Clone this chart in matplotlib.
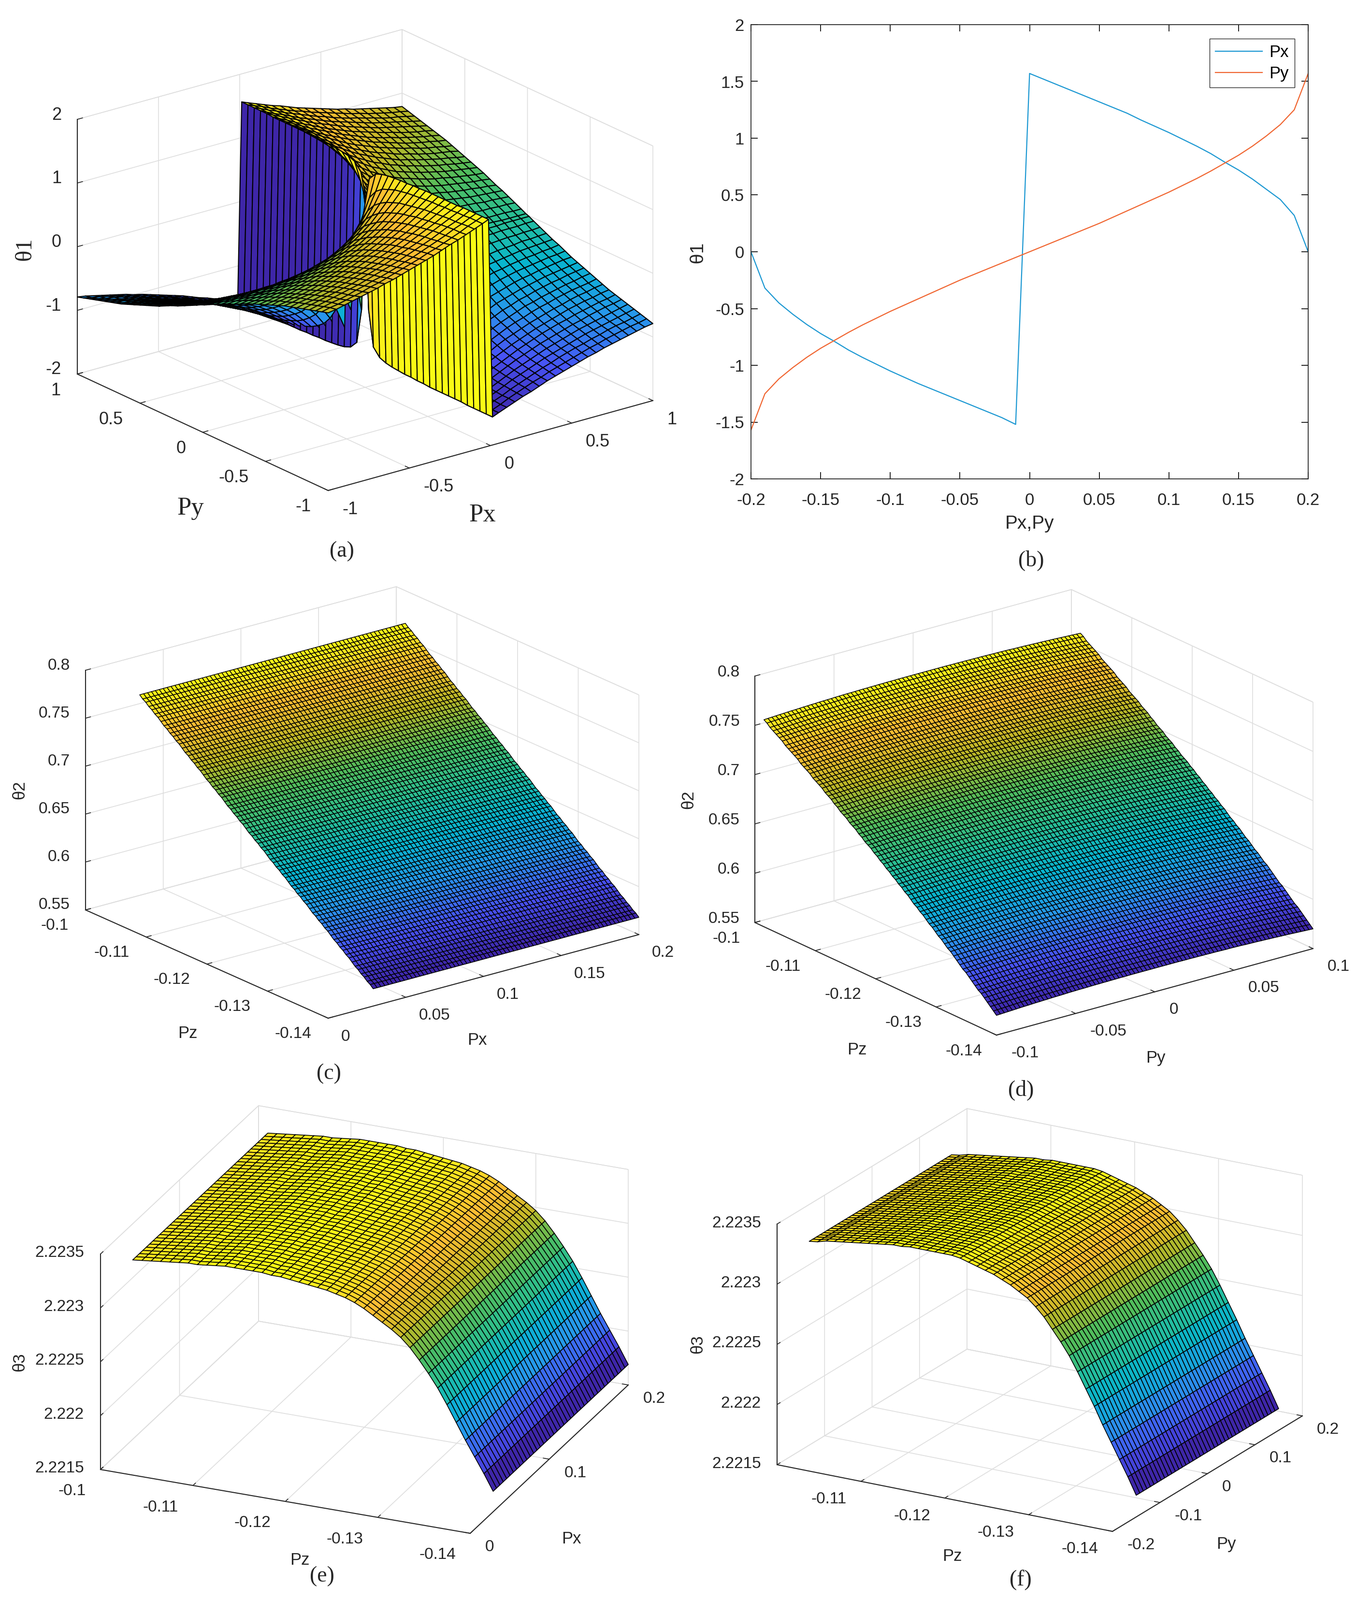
import numpy as np
import matplotlib
matplotlib.use("Agg")
import matplotlib.pyplot as plt
from matplotlib.colors import LinearSegmentedColormap
from mpl_toolkits.mplot3d import proj3d

W, H = 2837, 3311
plt.rcParams['font.family'] = ['Liberation Sans', 'DejaVu Sans']

# panel (b): theta1 against Px and Py, one sample per 0.01
line_x = [-0.2, -0.19, -0.18, -0.17, -0.16, -0.15, -0.14, -0.13, -0.12, -0.11, -0.1, -0.09, -0.08, -0.07,
          -0.06, -0.05, -0.04, -0.03, -0.02, -0.01, 0, 0.01, 0.02, 0.03, 0.04, 0.05, 0.06, 0.07, 0.08, 0.09,
          0.1, 0.11, 0.12, 0.13, 0.14, 0.15, 0.16, 0.17, 0.18, 0.19, 0.2]
line_px = [0, -0.32, -0.45, -0.55, -0.64, -0.72, -0.79, -0.865, -0.93, -0.99, -1.05, -1.105, -1.16, -1.21,
           -1.26, -1.31, -1.36, -1.41, -1.46, -1.52, 1.57, 1.52, 1.47, 1.42, 1.37, 1.32, 1.27, 1.22, 1.16, 1.105,
           1.05, 0.99, 0.93, 0.865, 0.79, 0.72, 0.64, 0.55, 0.46, 0.32, 0]
line_py = [-1.57, -1.25, -1.12, -1.02, -0.93, -0.85, -0.78, -0.71, -0.645, -0.585, -0.525, -0.47, -0.415, -0.36,
           -0.305, -0.25, -0.2, -0.15, -0.1, -0.05, 0, 0.05, 0.1, 0.15, 0.2, 0.25, 0.305, 0.36, 0.415, 0.47,
           0.525, 0.585, 0.645, 0.71, 0.78, 0.85, 0.93, 1.02, 1.12, 1.25, 1.57]

# panel (a): theta1 for Px, Py > 0 (rows Py, columns Px on a_step), other quadrants follow by sign
a_step = [0.0125, 0.05, 0.1, 0.15, 0.2, 0.25, 0.3, 0.35, 0.4, 0.45, 0.5, 0.55, 0.6, 0.65, 0.7, 0.75, 0.8, 0.85, 0.9, 0.95, 1.0]
a_quad = [
    [.79, .24, .12, .08, .06, .05, .04, .04, .03, .03, .02, .02, .02, .02, .02, .02, .02, .01, .01, .01, .01],
    [1.33, .79, .46, .32, .24, .20, .17, .14, .12, .11, .10, .09, .08, .08, .07, .07, .06, .06, .06, .05, .05],
    [1.45, 1.11, .79, .59, .46, .38, .32, .28, .24, .22, .20, .18, .17, .15, .14, .13, .12, .12, .11, .11, .10],
    [1.49, 1.25, .98, .79, .64, .54, .46, .40, .36, .32, .29, .27, .24, .23, .21, .20, .19, .17, .17, .16, .15],
    [1.51, 1.33, 1.11, .93, .79, .67, .59, .52, .46, .42, .38, .35, .32, .30, .28, .26, .24, .23, .22, .21, .20],
    [1.52, 1.37, 1.19, 1.03, .90, .79, .69, .62, .56, .51, .46, .43, .39, .37, .34, .32, .30, .29, .27, .26, .24],
    [1.53, 1.41, 1.25, 1.11, .98, .88, .79, .71, .64, .59, .54, .50, .46, .43, .40, .38, .36, .34, .32, .31, .29],
    [1.53, 1.43, 1.29, 1.17, 1.05, .95, .86, .79, .72, .66, .61, .57, .53, .49, .46, .44, .41, .39, .37, .35, .34],
    [1.54, 1.45, 1.33, 1.21, 1.11, 1.01, .93, .85, .79, .73, .67, .63, .59, .55, .52, .49, .46, .44, .42, .40, .38],
    [1.54, 1.46, 1.35, 1.25, 1.15, 1.06, .98, .91, .84, .79, .73, .69, .64, .61, .57, .54, .51, .49, .46, .44, .42],
    [1.55, 1.47, 1.37, 1.28, 1.19, 1.11, 1.03, .96, .90, .84, .79, .74, .69, .66, .62, .59, .56, .53, .51, .48, .46],
    [1.55, 1.48, 1.39, 1.30, 1.22, 1.14, 1.07, 1.00, .94, .88, .83, .79, .74, .70, .67, .63, .60, .57, .55, .53, .50],
    [1.55, 1.49, 1.41, 1.33, 1.25, 1.18, 1.11, 1.04, .98, .93, .88, .83, .79, .75, .71, .68, .64, .61, .59, .56, .54],
    [1.55, 1.49, 1.42, 1.34, 1.27, 1.20, 1.14, 1.08, 1.02, .97, .92, .87, .83, .79, .75, .71, .68, .65, .63, .60, .58],
    [1.55, 1.50, 1.43, 1.36, 1.29, 1.23, 1.17, 1.11, 1.05, 1.00, .95, .90, .86, .82, .79, .75, .72, .69, .66, .64, .61],
    [1.55, 1.50, 1.44, 1.37, 1.31, 1.25, 1.19, 1.13, 1.08, 1.03, .98, .94, .90, .86, .82, .79, .75, .72, .69, .67, .64],
    [1.56, 1.51, 1.45, 1.39, 1.33, 1.27, 1.21, 1.16, 1.11, 1.06, 1.01, .97, .93, .89, .85, .82, .79, .76, .73, .70, .67],
    [1.56, 1.51, 1.45, 1.40, 1.34, 1.28, 1.23, 1.18, 1.13, 1.08, 1.04, 1.00, .96, .92, .88, .85, .82, .79, .76, .73, .70],
    [1.56, 1.52, 1.46, 1.41, 1.35, 1.30, 1.25, 1.20, 1.15, 1.11, 1.06, 1.02, .98, .95, .91, .88, .84, .81, .79, .76, .73],
    [1.56, 1.52, 1.47, 1.41, 1.36, 1.31, 1.26, 1.22, 1.17, 1.13, 1.09, 1.05, 1.01, .97, .94, .90, .87, .84, .81, .79, .76],
    [1.56, 1.52, 1.47, 1.42, 1.37, 1.33, 1.28, 1.23, 1.19, 1.15, 1.11, 1.07, 1.03, 1.00, .96, .93, .90, .87, .84, .81, .79],
]

# panel (c): theta2 along Pz, flat along Px
c_theta2 = [.568, .571, .573, .576, .578, .581, .583, .586, .589, .591, .594, .596, .599, .601, .604, .607, .609,
            .612, .614, .617, .619, .622, .625, .627, .630, .632, .635, .637, .640, .643, .645, .648, .650, .653,
            .655, .658, .661, .663, .666, .668, .671, .673, .676, .679, .681, .684, .686, .689, .691, .694, .697,
            .699, .702, .704, .707, .709, .712, .715, .717, .720, .722, .725, .727, .730, .733, .735, .738, .740,
            .743, .745, .748, .751, .753, .756, .758, .761, .763, .766]

# panel (d): theta2 along Pz at the Py = +-0.1 edges, and how much the middle of each row rises above them
d_theta2 = [.570, .573, .576, .579, .582, .585, .587, .590, .593, .596, .599, .601, .604, .607, .610, .613, .615,
            .618, .621, .623, .626, .629, .631, .634, .637, .639, .642, .644, .647, .650, .652, .655, .657, .660,
            .662, .665, .667, .670, .672, .675, .677, .680, .682, .684, .687, .689, .692, .694, .696, .699, .701,
            .703, .706, .708, .711, .713, .715, .718, .720, .722, .724, .727, .729, .731, .733, .736, .738, .740,
            .742, .744, .747, .749, .751, .753, .755, .758, .760]
d_bow = [.0000, .0002, .0004, .0006, .0008, .0010, .0012, .0014, .0015, .0017, .0019, .0020, .0022, .0023, .0025,
         .0026, .0027, .0028, .0030, .0031, .0032, .0033, .0033, .0034, .0035, .0036, .0036, .0037, .0037, .0038,
         .0038, .0039, .0039, .0039, .0040, .0040, .0040, .0040, .0040, .0040, .0040]

# panels (e), (f): theta3 along Pz (one row per 0.001), flat along Px / Py
e_theta3 = [2.22169, 2.22184, 2.22198, 2.22212, 2.22227, 2.22242, 2.22256, 2.22268, 2.22279, 2.22289,
            2.22297, 2.22303, 2.22308, 2.22313, 2.22318, 2.22322, 2.22325, 2.22327, 2.22329, 2.22330,
            2.22331, 2.22332, 2.22333, 2.22334, 2.22334, 2.22335, 2.22335, 2.22335, 2.22335, 2.22335,
            2.22334, 2.22333, 2.22332, 2.22332, 2.22331, 2.22330, 2.22329, 2.22328, 2.22327, 2.22326]
f_theta3 = [2.22168, 2.22182, 2.22195, 2.22208, 2.22221, 2.22235, 2.22248, 2.22261, 2.22273, 2.22283,
            2.22292, 2.22301, 2.22308, 2.22314, 2.22318, 2.22322, 2.22325, 2.22328, 2.22330, 2.22332,
            2.22334, 2.22336, 2.22337, 2.22337, 2.22337, 2.22337, 2.22337, 2.22337, 2.22336, 2.22336,
            2.22335, 2.22334, 2.22333, 2.22332, 2.22331, 2.22330, 2.22329, 2.22328, 2.22326, 2.22325]

# tick values and labels
a_xyticks = [-1, -0.5, 0, 0.5, 1]
a_xylabels = ['-1', '-0.5', '0', '0.5', '1']
a_zticks = [-2, -1, 0, 1, 2]
pz_ticks = [-0.14, -0.13, -0.12, -0.11, -0.1]
pz_labels = ['-0.14', '-0.13', '-0.12', '-0.11', '-0.1']
theta2_ticks = [0.55, 0.6, 0.65, 0.7, 0.75, 0.8]
theta2_labels = ['0.55', '0.6', '0.65', '0.7', '0.75', '0.8']
theta3_ticks = [2.2215, 2.222, 2.2225, 2.223, 2.2235]
theta3_labels = ['2.2215', '2.222', '2.2225', '2.223', '2.2235']

# MATLAB parula
parula = LinearSegmentedColormap.from_list('parula', [
    (0.2422, 0.1504, 0.6603), (0.2810, 0.3228, 0.9579), (0.1540, 0.5902, 0.9218), (0.0297, 0.7082, 0.8163),
    (0.1600, 0.7500, 0.5800), (0.3200, 0.7400, 0.3600), (0.7400, 0.7200, 0.1500), (0.9970, 0.7400, 0.2000),
    (0.9769, 0.9839, 0.0805)])

fig = plt.figure(figsize=(W / 100, H / 100), dpi=100, facecolor='white')


def fit_box(ax, L, F, R, T):
    # L, F, R: floor corners in image pixels, T: top of the vertical axis above L
    L, F, R, T = [np.array(p, float) for p in (L, F, R, T)]
    vx = (R - F) * [1, -1]
    vy = (L - F) * [1, -1]
    vz = (L[1] - T[1])
    sin_el = np.sqrt((vx[1] / vx[0]) * (vy[1] / -vy[0]))
    ratio = np.sqrt((vx[1] / vx[0]) / (vy[1] / -vy[0]))
    el = np.arcsin(sin_el)
    az = -180 + np.degrees(np.arctan2(1, ratio))
    sin_az, cos_az = -np.sin(np.radians(az)), -np.cos(np.radians(az))
    ax.set_proj_type('ortho')
    ax.view_init(np.degrees(el), az)
    ax.set_box_aspect((vx[0] / sin_az, -vy[0] / cos_az, vz / np.cos(el)))
    side = 1000
    ax.set_position([0, 0, side / W, side / H])
    ax.apply_aspect()
    xl, xh = ax.get_xlim()
    yl, yh = ax.get_ylim()
    zl, zh = ax.get_zlim()
    xs, ys, _ = proj3d.proj_transform(np.array([xl, xh, xl]), np.array([yh, yl, yl]), np.array([zl, zl, zl]), ax.get_proj())
    pts = ax.transData.transform(np.c_[xs, ys])
    k = abs(R[0] - L[0]) / abs(pts[1, 0] - pts[0, 0])
    x0 = F[0] - k * pts[2, 0]
    y0 = (H - F[1]) - k * pts[2, 1]
    ax.set_position([x0 / W, y0 / H, side * k / W, side * k / H])
    ax.apply_aspect()


def tick_text(ax, xs, ys, zs, labels, dx, dy, ha, size):
    # put tick labels a fixed pixel distance from their tick on the axis line
    px, py, _ = proj3d.proj_transform(np.array(xs, float), np.array(ys, float), np.array(zs, float), ax.get_proj())
    pts = ax.transData.transform(np.c_[px, py])
    for (x, y), s in zip(pts, labels):
        fig.text((x + dx) / W, (y - dy) / H, s, fontsize=size, ha=ha, va='center', color='#262626')


def make_surface(corners, px, py, z, xlim, ylim, zlim, xticks, xlabels, yticks, ylabels, zticks, zlabels,
                 offsets, lw=0.7, size=24):
    ax = fig.add_subplot(projection='3d')
    ax.set_xlim(*xlim)
    ax.set_ylim(*ylim)
    ax.set_zlim(*zlim)
    fit_box(ax, *corners)
    ax.patch.set_alpha(0)
    z = np.asarray(z)
    colors = parula((z - np.nanmin(z)) / (np.nanmax(z) - np.nanmin(z)))
    xx, yy = np.meshgrid(px, py)
    ax.plot_surface(xx, yy, z, facecolors=colors, rstride=1, cstride=1, edgecolor='black',
                    linewidth=lw, shade=False, antialiased=True)
    ax.set_xticks(xticks, [''] * len(xticks))
    ax.set_yticks(yticks, [''] * len(yticks))
    ax.set_zticks(zticks, [''] * len(zticks))
    for axis in (ax.xaxis, ax.yaxis, ax.zaxis):
        axis.set_pane_color((1, 1, 1, 1))
        axis.pane.set_edgecolor('#dcdcdc')
        axis.line.set_color('#262626')
        axis.line.set_linewidth(1.5)
        axis._axinfo['grid'].update(color='#dedede', linewidth=1.2)
        axis._axinfo['tick'].update(inward_factor=0.0, outward_factor=0.2, linewidth={True: 1.2, False: 1.0})
        axis.set_tick_params(color='#262626')
    n = len(xticks)
    tick_text(ax, xticks, [ylim[0]] * n, [zlim[0]] * n, xlabels, *offsets[0], 'left', size)
    n = len(yticks)
    tick_text(ax, [xlim[0]] * n, yticks, [zlim[0]] * n, ylabels, *offsets[1], 'right', size)
    n = len(zticks)
    tick_text(ax, [xlim[0]] * n, [ylim[1]] * n, zticks, zlabels, *offsets[2], 'right', size)
    return ax


def label(x, y, s, size=25, rotation=0, family='Liberation Sans'):
    fig.text(x / W, 1 - y / H, s, fontsize=size, rotation=rotation, family=family, ha='center', va='center', color='#262626')


# panel (a)
a_q = np.array(a_quad)
a_axis = [-v for v in a_step[::-1]] + a_step
a_top = np.hstack([-a_q[:, ::-1], a_q])
a_bot = np.hstack([a_q[::-1, ::-1], -a_q[::-1]])
a_z = np.vstack([a_bot, a_top])
make_surface(((160, 774), (679, 1015), (1351, 829), (160, 247)), a_axis, a_axis, a_z,
             (-1, 1), (-1, 1), (-2, 2), a_xyticks, a_xylabels, a_xyticks, a_xylabels, a_zticks,
             ['-2', '-1', '0', '1', '2'], ((29, 39), (-35, 34), (-33, -9)), lw=1.5, size=26)
label(394, 1052, 'Py', 38, family='Liberation Serif')
label(998, 1066, 'Px', 38, family='Liberation Serif')
label(52, 515, 'θ1', 35, rotation=90, family='Liberation Serif')
label(707, 1141, '(a)', 33, family='Liberation Serif')

# panel (b)
ax_b = fig.add_axes([1554 / W, 1 - 991 / H, (2707 - 1554) / W, (991 - 51) / H])
ax_b.plot(line_x, line_px, color='#1a97d2', lw=1.6, label='Px')
ax_b.plot(line_x, line_py, color='#f0642f', lw=1.6, label='Py')
ax_b.set_xlim(-0.2, 0.2)
ax_b.set_ylim(-2, 2)
ax_b.set_xticks([-0.2, -0.15, -0.1, -0.05, 0, 0.05, 0.1, 0.15, 0.2],
                ['-0.2', '-0.15', '-0.1', '-0.05', '0', '0.05', '0.1', '0.15', '0.2'])
ax_b.set_yticks([-2, -1.5, -1, -0.5, 0, 0.5, 1, 1.5, 2], ['-2', '-1.5', '-1', '-0.5', '0', '0.5', '1', '1.5', '2'])
ax_b.tick_params(direction='in', top=True, right=True, length=10, width=1.2, labelsize=25, labelcolor='#262626', pad=10)
ax_b.tick_params(axis='x', pad=20)
for spine in ax_b.spines.values():
    spine.set_linewidth(1.3)
    spine.set_color('#262626')
ax_b.legend(loc='upper right', bbox_to_anchor=(0.9757, 0.969), borderaxespad=0, fancybox=False, framealpha=1,
            edgecolor='#262626', fontsize=25, labelspacing=0.3, handlelength=2.8, handletextpad=0.4, borderpad=0.35)
label(2131, 1084, 'Px,Py', 28)
label(1444, 522, 'θ1', 28, rotation=90)
label(2134, 1160, '(b)', 33, family='Liberation Serif')

# panel (c)
c_pz = np.linspace(-0.14, -0.1015, len(c_theta2))
c_px = np.linspace(0.029, 0.2, 69)
c_z = np.tile(np.array(c_theta2)[:, None], (1, len(c_px)))
make_surface(((177, 1883), (679, 2107), (1322, 1934), (177, 1387)), c_px, c_pz, c_z,
             (0, 0.2), (-0.14, -0.1), (0.55, 0.8), [0, 0.05, 0.1, 0.15, 0.2], ['0', '0.05', '0.1', '0.15', '0.2'],
             pz_ticks, pz_labels, theta2_ticks, theta2_labels, ((27, 38), (-35, 33), (-32, -10)), lw=1.1)
label(388, 2139, 'Pz')
label(987, 2153, 'Px')
label(41, 1635, 'θ2', rotation=90)
label(680, 2222, '(c)', 33, family='Liberation Serif')

# panel (d)
d_py = np.linspace(-0.1, 0.1, 2 * len(d_bow) - 1)
d_pz = np.linspace(-0.14, -0.1015, len(d_theta2))
d_row = np.array(d_bow + d_bow[-2::-1])
d_z = np.array(d_theta2)[:, None] + d_row[None, :]
make_surface(((1562, 1909), (2062, 2142), (2717, 1963), (1562, 1399)), d_py, d_pz, d_z,
             (-0.1, 0.1), (-0.14, -0.1), (0.55, 0.8), [-0.1, -0.05, 0, 0.05, 0.1], ['-0.1', '-0.05', '0', '0.05', '0.1'],
             pz_ticks, pz_labels, theta2_ticks, theta2_labels, ((30, 37), (-30, 33), (-31, -8)), lw=1.1)
label(1773, 2173, 'Pz')
label(2391, 2190, 'Py')
label(1425, 1655, 'θ2', rotation=90)
label(2113, 2256, '(d)', 33, family='Liberation Serif')

# panel (e)
e_pz = np.linspace(-0.14, -0.101, len(e_theta3))
e_px = np.linspace(0.029, 0.2, 41)
e_z = np.tile(np.array(e_theta3)[:, None], (1, len(e_px)))
make_surface(((208, 3041), (973, 3173), (1300, 2866), (208, 2595)), e_px, e_pz, e_z,
             (0, 0.2), (-0.14, -0.1), (2.2215, 2.2235), [0, 0.1, 0.2], ['0', '0.1', '0.2'],
             pz_ticks, pz_labels, theta3_ticks, theta3_labels, ((31, 29), (-30, 45), (-34, -2)), lw=1.2)
label(620, 3228, 'Pz')
label(1182, 3185, 'Px')
label(41, 2819, 'θ3', rotation=90)
label(666, 3262, '(e)', 33, family='Liberation Serif')

# panel (f)
f_pz = np.linspace(-0.14, -0.101, len(f_theta3))
f_py = np.linspace(-0.15, 0.15, 41)
f_z = np.tile(np.array(f_theta3)[:, None], (1, len(f_py)))
make_surface(((1608, 3031), (2302, 3169), (2695, 2930), (1608, 2533)), f_py, f_pz, f_z,
             (-0.2, 0.2), (-0.14, -0.1), (2.2215, 2.2235), [-0.2, -0.1, 0, 0.1, 0.2], ['-0.2', '-0.1', '0', '0.1', '0.2'],
             pz_ticks[:-1], pz_labels[:-1], theta3_ticks, theta3_labels, ((30, 28), (-30, 37), (-33, -2)), lw=1.2)
label(1970, 3220, 'Pz')
label(2537, 3195, 'Py')
label(1444, 2782, 'θ3', rotation=90)
label(2112, 3270, '(f)', 33, family='Liberation Serif')

fig.savefig('out.png', dpi=100)
